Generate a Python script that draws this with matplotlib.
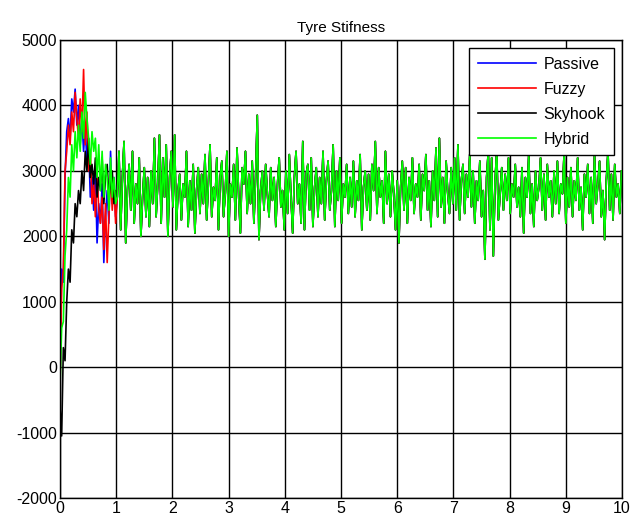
import numpy as np
import matplotlib
matplotlib.use("Agg")
import matplotlib.pyplot as plt

plt.rcParams['font.family'] = ['Liberation Sans', 'DejaVu Sans']
plt.rcParams['axes.unicode_minus'] = False

# sample spacing of the simulation output (s)
dt = 0.03

# start-up transient, t = 0 .. 0.99 s (one list per controller)
passive_start = [-200, 1500, 1300, 2900, 3600, 3800, 3500, 4100, 3900, 4250,
                 3700, 4000, 3400, 3800, 3300, 3700, 3100, 3400, 2600, 2900,
                 2400, 3000, 1900, 2500, 2200, 2800, 1600, 2300, 2700, 2200,
                 3300, 2500, 2900, 2300]
fuzzy_start = [-300, 1200, 1500, 3000, 3300, 3700, 3400, 3900, 3600, 4200,
               3800, 3500, 4100, 3600, 4550, 3400, 3900, 3000, 3300, 2500,
               2800, 2300, 3000, 2400, 2200, 2600, 1800, 2500, 1600, 2300,
               3000, 2400, 2800, 2200]
skyhook_start = [-600, -1050, 300, 100, 1000, 1500, 1300, 2100, 1900, 2500,
                 2300, 2700, 2500, 3000, 2700, 3300, 3000, 3500, 2900, 3100,
                 2800, 3200, 2600, 2900, 2700, 3200, 2500, 2900, 3100, 2600,
                 2800, 3000, 2500, 2700]
hybrid_start = [-300, 600, 700, 1700, 2100, 2900, 2600, 3400, 3000, 3600,
                3200, 3700, 3300, 3900, 3500, 4200, 3800, 3500, 3100, 3600,
                3300, 3500, 2900, 3400, 2700, 3300, 2600, 3100, 2900, 2400,
                3200, 2600, 2900, 2500]

# after ~1 s the four responses practically overlap
common_tail = [
    2600, 3300, 2100, 2900, 3450, 1900, 2700, 3100, 2400, 3300,
    2200, 2800, 2500, 3200, 2000, 2600, 3050, 2300, 2900, 2150,
    3000, 2500, 3500, 2300, 2800, 3550, 2200, 3200, 2600, 3400,
    2000, 2900, 3300, 2450, 3550, 2100, 2700, 2950, 2250, 2800,
    2600, 3300, 2150, 2850, 2400, 3100, 2050, 2700, 3050, 2350,
    2950, 2500, 3250, 2250, 2800, 3400, 2300, 2750, 2550, 3200,
    2100, 2900, 3150, 2300, 2650, 3300, 2000, 2800, 2600, 3100,
    2250, 3350, 2600, 2050, 3050, 2800, 3300, 2350, 2950, 2500,
    3150, 2200, 2900, 3850, 1950, 2700, 3000, 2400, 3100, 2650,
    2300, 3050, 2550, 2900, 2150, 2800, 3200, 2450, 2700, 2100,
    3000, 2350, 3250, 2600, 2050, 2900, 3300, 2500, 2800, 2200,
    3450, 2100, 2950, 3100, 2400, 3200, 2150, 2750, 3050, 2300,
    2900, 2500, 3300, 2250, 2850, 3150, 2400, 2700, 3400, 2150,
    3000, 2550, 3200, 2200, 2800, 2600, 3100, 2350, 2900, 2450,
    3150, 2300, 2850, 2550, 3250, 2100, 2750, 3000, 2400, 2950,
    2250, 3100, 2700, 3450, 2350, 3050, 2600, 2850, 2200, 3300,
    2500, 2950, 2300, 3000, 2650, 2100, 2850, 1900, 2750, 3150,
    2400, 3050, 2200, 2900, 2550, 3200, 2350, 2800, 2600, 3100,
    2250, 2950, 2700, 3250, 2400, 2850, 2150, 3000, 2550, 3350,
    2300, 3500, 2450, 2900, 2200, 3150, 2650, 2350, 3050, 2500,
    3200, 2400, 3400, 2250, 2850, 3100, 2350, 2950, 2600, 3250,
    2450, 3000, 2200, 2850, 2550, 3150, 2300, 2700, 1650, 2900,
    3300, 2100, 3200, 1700, 2800, 3350, 2250, 2650, 3050, 2400,
    2950, 2550, 3200, 2350, 2800, 2600, 3100, 2450, 2750, 2300,
    3050, 2050, 2900, 2600, 3250, 2350, 2800, 2150, 3000, 2550,
    2750, 3200, 2400, 2950, 2250, 3100, 2600, 2850, 2300, 3000,
    2500, 3150, 2350, 2800, 2650, 3300, 2200, 2900, 2450, 3050,
    2300, 2850, 2550, 3200, 2400, 2750, 2100, 2950, 2600, 3100,
    2350, 2900, 2200, 3250, 2500, 2800, 3150, 2300, 2700, 1950,
    2850, 3300, 2400, 2950, 2250, 3100, 2600, 2800, 2350, 3000,
]

labels = ["Passive", "Fuzzy", "Skyhook", "Hybrid"]
colors = ["#0000ff", "#ff0000", "#000000", "#00ff00"]
starts = [passive_start, fuzzy_start, skyhook_start, hybrid_start]

fig = plt.figure(figsize=(6.38, 5.2), dpi=100)
ax = fig.add_axes([0.094, 0.042, 0.881, 0.881])

for lab, col, st in zip(labels, colors, starts):
    y = np.array(st + common_tail, dtype=float)
    t = np.arange(len(y)) * dt
    ax.plot(t, y, color=col, lw=1.2, label=lab)

ax.set_xlim(0, 10)
ax.set_ylim(-2000, 5000)
ax.set_xticks(range(0, 11))
ax.set_yticks(range(-2000, 5001, 1000))
ax.grid(True, color="black", linestyle="-", linewidth=1.0)
ax.tick_params(direction="in", labelsize=11.5, length=0, pad=2)
for s in ax.spines.values():
    s.set_color("black")
    s.set_linewidth(1.0)
ax.set_title("Tyre Stifness", fontsize=11, pad=6)

leg = ax.legend(loc="upper right", fontsize=11.5, fancybox=False,
                framealpha=1, edgecolor="black", handlelength=3.6,
                handletextpad=0.5, borderaxespad=0.5, labelspacing=0.62,
                borderpad=0.55)
leg.get_frame().set_linewidth(1.0)

fig.savefig("out.png", dpi=100)
